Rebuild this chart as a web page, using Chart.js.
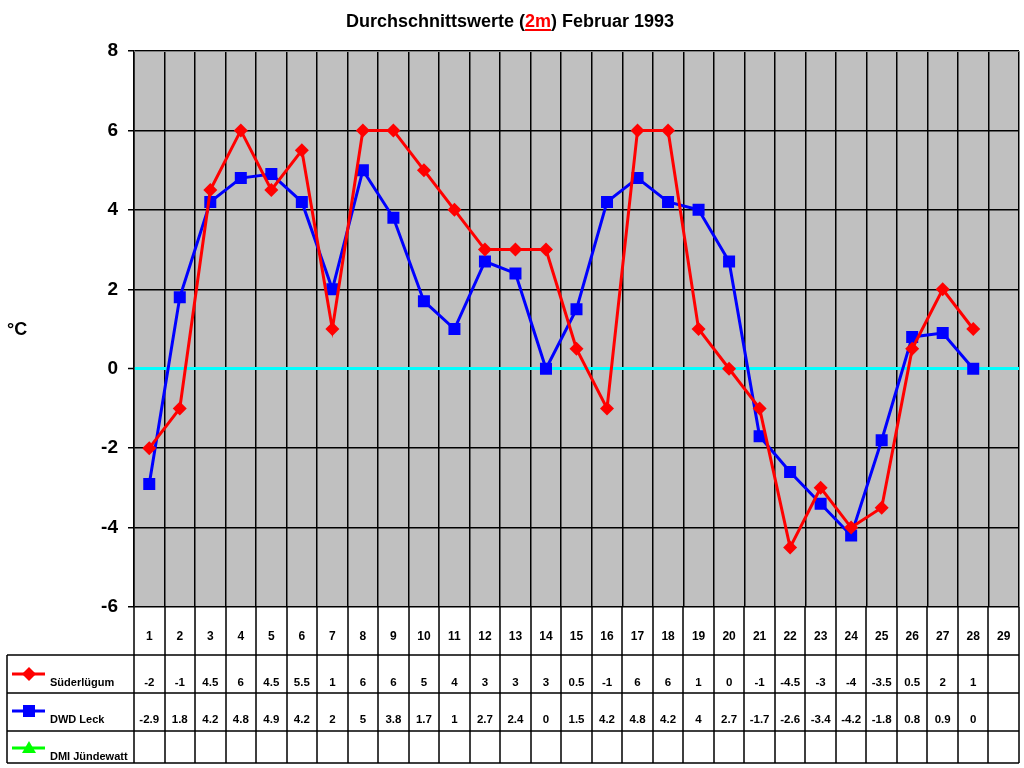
<!DOCTYPE html>
<html>
<head>
<meta charset="utf-8">
<script src="https://cdn.jsdelivr.net/npm/chart.js@4"></script>
<style>
  body { margin: 0; background: #fff; }
  canvas { display: block; }
</style>
</head>
<body>
<canvas id="myChart" width="1024" height="768"></canvas>
<script>
const days = ["1", "2", "3", "4", "5", "6", "7", "8", "9", "10", "11", "12", "13", "14", "15",
  "16", "17", "18", "19", "20", "21", "22", "23", "24", "25", "26", "27", "28", "29"];

const suederluegum = [-2, -1, 4.5, 6, 4.5, 5.5, 1, 6, 6, 5, 4, 3, 3, 3, 0.5,
  -1, 6, 6, 1, 0, -1, -4.5, -3, -4, -3.5, 0.5, 2, 1, null];
const dwdLeck = [-2.9, 1.8, 4.2, 4.8, 4.9, 4.2, 2, 5, 3.8, 1.7, 1, 2.7, 2.4, 0, 1.5,
  4.2, 4.8, 4.2, 4, 2.7, -1.7, -2.6, -3.4, -4.2, -1.8, 0.8, 0.9, 0, null];
const dmiJuendewatt = days.map(() => null);

const seriesNames = ["Süderlügum", "DWD Leck", "DMI Jündewatt"];
const seriesColors = ["#FF0000", "#0000FF", "#00FF00"];
const seriesMarkers = ["rectRot", "rect", "triangle"];

const yMin = -6;
const yMax = 8;
const yStep = 2;

const FONT = "Arial, 'Liberation Sans', sans-serif";

function drawMarker(ctx, style, x, y, color) {
  ctx.fillStyle = color;
  ctx.beginPath();
  if (style === "rectRot") {
    ctx.moveTo(x, y - 7);
    ctx.lineTo(x + 7, y);
    ctx.lineTo(x, y + 7);
    ctx.lineTo(x - 7, y);
  } else if (style === "rect") {
    ctx.rect(x - 6, y - 6, 12, 12);
  } else {
    ctx.moveTo(x, y - 7);
    ctx.lineTo(x + 7, y + 5);
    ctx.lineTo(x - 7, y + 5);
  }
  ctx.closePath();
  ctx.fill();
}

const chartDecor = {
  id: "chartDecor",
  beforeDraw(chart) {
    const { ctx, chartArea } = chart;
    ctx.save();
    ctx.fillStyle = "#C0C0C0";
    ctx.fillRect(chartArea.left, chartArea.top, chartArea.right - chartArea.left, chartArea.bottom - chartArea.top);
    ctx.restore();
  },
  afterDraw(chart) {
    const { ctx, chartArea } = chart;
    const xScale = chart.scales.x;
    ctx.save();

    // title with red underlined "2m"
    ctx.font = "bold 18px " + FONT;
    ctx.textBaseline = "alphabetic";
    const parts = [["Durchschnittswerte (", "#000"], ["2m", "#FF0000"], [") Februar 1993", "#000"]];
    const total = parts.reduce((s, p) => s + ctx.measureText(p[0]).width, 0);
    let tx = 510 - total / 2;
    parts.forEach(p => {
      const w = ctx.measureText(p[0]).width;
      ctx.fillStyle = p[1];
      ctx.textAlign = "left";
      ctx.fillText(p[0], tx, 27);
      if (p[1] !== "#000") {
        ctx.fillRect(tx, 29, w, 2);
      }
      tx += w;
    });

    // unit label
    ctx.fillStyle = "#000";
    ctx.font = "bold 18px " + FONT;
    ctx.fillText("°C", 7, 335);

    // top / right frame of the plot
    ctx.strokeStyle = "#808080";
    ctx.lineWidth = 1;
    ctx.beginPath();
    ctx.moveTo(chartArea.left, chartArea.top + 0.5);
    ctx.lineTo(chartArea.right + 0.5, chartArea.top + 0.5);
    ctx.lineTo(chartArea.right + 0.5, chartArea.bottom);
    ctx.stroke();

    // data table
    const top = chartArea.bottom;
    const rows = [top, 655, 693, 731, 763];
    const colW = (chartArea.right - chartArea.left) / days.length;
    ctx.strokeStyle = "#000";
    ctx.lineWidth = 1.5;
    ctx.beginPath();
    for (let i = 0; i <= days.length; i++) {
      const x = Math.round(chartArea.left + i * colW);
      ctx.moveTo(x, top);
      ctx.lineTo(x, rows[4]);
    }
    for (let r = 1; r < rows.length; r++) {
      ctx.moveTo(7, rows[r]);
      ctx.lineTo(chartArea.right, rows[r]);
    }
    ctx.moveTo(7, rows[1]);
    ctx.lineTo(7, rows[4]);
    ctx.stroke();

    ctx.font = "bold 12px " + FONT;
    ctx.textAlign = "center";
    ctx.fillStyle = "#000";
    days.forEach((d, i) => {
      const x = xScale.getPixelForValue(i);
      ctx.fillText(d, x, 640);
    });

    const rowData = [suederluegum, dwdLeck, dmiJuendewatt];
    const textY = [686, 723, 760];
    rowData.forEach((vals, r) => {
      ctx.font = "bold 11.5px " + FONT;
      ctx.textAlign = "center";
      ctx.fillStyle = "#000";
      vals.forEach((v, i) => {
        if (v === null) return;
        ctx.fillText(String(v), xScale.getPixelForValue(i), textY[r]);
      });
      // legend key
      const my = textY[r] - 12;
      ctx.strokeStyle = seriesColors[r];
      ctx.lineWidth = 3;
      ctx.beginPath();
      ctx.moveTo(12, my);
      ctx.lineTo(45, my);
      ctx.stroke();
      drawMarker(ctx, seriesMarkers[r], 29, my, seriesColors[r]);
      ctx.font = "bold 11px " + FONT;
      ctx.fillStyle = "#000";
      ctx.textAlign = "left";
      ctx.fillText(seriesNames[r], 50, textY[r]);
    });

    ctx.restore();
  }
};

const seriesData = [suederluegum, dwdLeck, dmiJuendewatt];

new Chart(document.getElementById("myChart"), {
  type: "line",
  data: {
    labels: days,
    datasets: seriesData.map((vals, i) => ({
      label: seriesNames[i],
      data: vals,
      borderColor: seriesColors[i],
      backgroundColor: seriesColors[i],
      borderWidth: 3,
      tension: 0,
      pointStyle: seriesMarkers[i],
      pointRadius: i === 1 ? 8.5 : 7,
      pointBorderWidth: 0,
      spanGaps: false
    }))
  },
  options: {
    responsive: false,
    animation: false,
    layout: { autoPadding: false, padding: { left: 0, right: 5, top: 51, bottom: 161 } },
    plugins: {
      legend: { display: false },
      title: { display: false },
      tooltip: { enabled: false }
    },
    scales: {
      x: {
        offset: true,
        grid: { offset: true, color: "#000", lineWidth: 1.5, drawTicks: false },
        border: { display: false },
        ticks: { display: false },
        afterFit: scale => { scale.height = 0; }
      },
      y: {
        min: yMin,
        max: yMax,
        ticks: {
          stepSize: yStep,
          color: "#000",
          padding: 10,
          font: { family: FONT, size: 19, weight: "bold" }
        },
        grid: {
          color: c => (c.tick && c.tick.value === 0 ? "#00FFFF" : "#000"),
          lineWidth: c => (c.tick && c.tick.value === 0 ? 3 : 1.5),
          tickColor: "#000",
          tickLength: 6,
          tickWidth: 1.5
        },
        border: { display: true, color: "#000", width: 1.5 },
        afterFit: scale => { scale.width = 134; }
      }
    }
  },
  plugins: [chartDecor]
});
</script>
</body>
</html>
